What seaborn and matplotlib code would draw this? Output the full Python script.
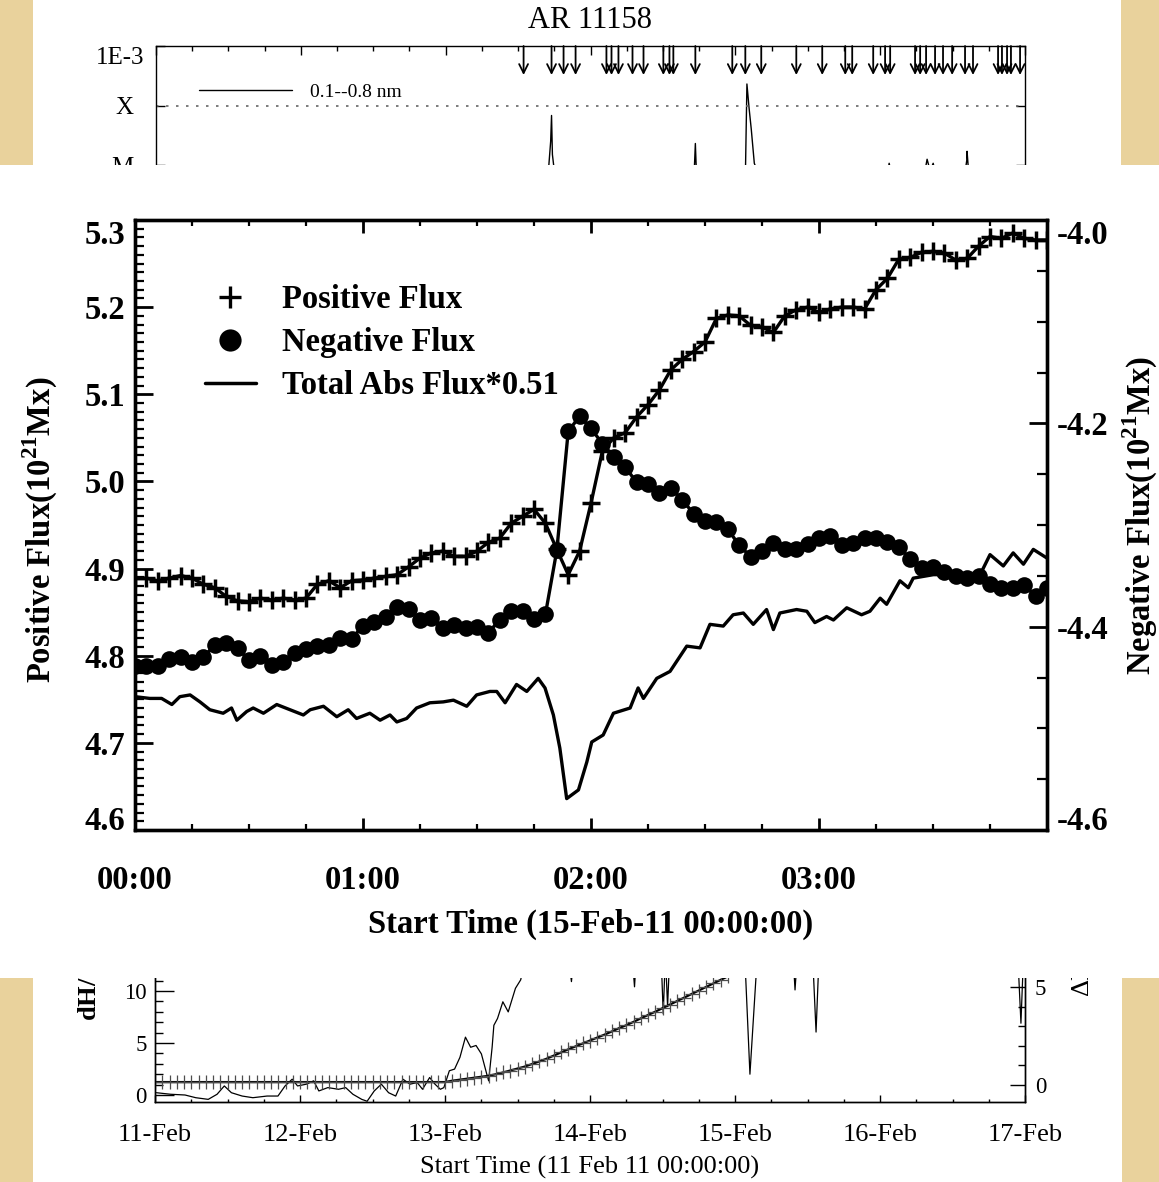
"""AR 11158 magnetic flux evolution around the X2.2 flare (15 Feb 2011)."""
import matplotlib
matplotlib.use("Agg")
import matplotlib.pyplot as plt
from matplotlib.lines import Line2D
from matplotlib.patches import Rectangle
from matplotlib.ticker import (MultipleLocator, FixedLocator, LogLocator,
                               NullFormatter, FuncFormatter, FormatStrFormatter)
import seaborn as sns
import numpy as np

sns.set_style("ticks", {"axes.edgecolor": "black", "xtick.color": "black",
                        "ytick.color": "black", "text.color": "black",
                        "axes.labelcolor": "black"})
plt.rcParams.update({
    "font.family": ["Liberation Serif", "DejaVu Serif"],
    "mathtext.fontset": "custom",
    "mathtext.rm": "Liberation Serif",
    "mathtext.bf": "Liberation Serif:bold",
    "axes.unicode_minus": False,
})

W, H, DPI = 1159, 1182, 100
PARCHMENT = "#e9d29c"

# ---------------- main panel data (minutes after 15-Feb-11 00:00) ----------------
minutes = np.arange(0, 241, 3)
pos_flux = [
    4.889, 4.889, 4.886, 4.889, 4.892, 4.889, 4.882, 4.878, 4.868, 4.863,
    4.862, 4.866, 4.864, 4.866, 4.864, 4.866, 4.882, 4.886, 4.878, 4.886,
    4.887, 4.889, 4.891, 4.893, 4.902, 4.912, 4.918, 4.920, 4.914, 4.914,
    4.920, 4.930, 4.935, 4.952, 4.960, 4.968, 4.952, 4.922, 4.893, 4.920,
    4.975, 5.035, 5.050, 5.056, 5.074, 5.088, 5.105, 5.128, 5.140, 5.149,
    5.160, 5.187, 5.191, 5.190, 5.179, 5.177, 5.171, 5.190, 5.197, 5.200,
    5.194, 5.198, 5.200, 5.200, 5.198, 5.220, 5.233, 5.255, 5.257, 5.263,
    5.264, 5.262, 5.254, 5.256, 5.270, 5.281, 5.279, 5.285, 5.279, 5.277,
    5.277,
]
neg_flux = [
    -4.439, -4.439, -4.439, -4.432, -4.430, -4.435, -4.430, -4.418, -4.416, -4.421,
    -4.433, -4.429, -4.438, -4.435, -4.426, -4.422, -4.419, -4.418, -4.411, -4.412,
    -4.399, -4.395, -4.390, -4.381, -4.383, -4.393, -4.391, -4.401, -4.398, -4.401,
    -4.400, -4.406, -4.393, -4.385, -4.385, -4.392, -4.388, -4.325, -4.208, -4.193,
    -4.205, -4.220, -4.233, -4.243, -4.258, -4.260, -4.269, -4.264, -4.275, -4.289,
    -4.296, -4.297, -4.304, -4.320, -4.331, -4.326, -4.318, -4.324, -4.324, -4.319,
    -4.313, -4.311, -4.320, -4.318, -4.313, -4.313, -4.317, -4.322, -4.333, -4.342,
    -4.341, -4.346, -4.350, -4.352, -4.350, -4.358, -4.362, -4.362, -4.359, -4.370,
    -4.362,
]
total_min = [
    0.0, 3.9, 7.0, 9.7, 11.8, 14.5, 17.1, 19.7, 23.2, 25.4,
    26.8, 29.4, 31.1, 33.8, 37.3, 40.8, 44.3, 46.1, 49.6, 53.1,
    56.1, 58.3, 61.8, 64.5, 67.1, 68.9, 71.5, 74.1, 77.6, 81.1,
    83.8, 87.3, 89.9, 93.4, 95.2, 97.4, 100.4, 103.1, 106.1, 107.9,
    110.1, 111.8, 113.6, 116.7, 118.9, 120.2, 123.2, 125.9, 130.3, 132.4,
    133.8, 137.3, 140.8, 145.2, 148.7, 151.3, 154.8, 157.4, 160.1, 162.7,
    166.2, 168.0, 169.7, 174.1, 176.8, 178.9, 182.0, 183.8, 187.3, 191.2,
    193.4, 196.1, 197.8, 201.3, 203.5, 204.8, 210.1, 214.5, 219.7, 222.4,
    225.0, 228.5, 231.1, 233.8, 236.4, 240.0,
]
total_flux = [
    4.753, 4.751, 4.751, 4.744, 4.753, 4.755, 4.747, 4.738, 4.734, 4.740,
    4.726, 4.736, 4.740, 4.734, 4.744, 4.738, 4.732, 4.738, 4.742, 4.730,
    4.738, 4.728, 4.734, 4.726, 4.732, 4.724, 4.728, 4.740, 4.746, 4.747,
    4.749, 4.742, 4.755, 4.759, 4.759, 4.746, 4.767, 4.759, 4.774, 4.763,
    4.732, 4.694, 4.636, 4.646, 4.678, 4.701, 4.709, 4.734, 4.740, 4.763,
    4.751, 4.774, 4.782, 4.811, 4.809, 4.836, 4.834, 4.847, 4.849, 4.836,
    4.853, 4.830, 4.849, 4.853, 4.851, 4.838, 4.845, 4.841, 4.855, 4.847,
    4.851, 4.866, 4.859, 4.886, 4.878, 4.889, 4.893, 4.893, 4.886, 4.893,
    4.916, 4.903, 4.918, 4.905, 4.922, 4.912,
]
pos_ticks = [4.6, 4.7, 4.8, 4.9, 5.0, 5.1, 5.2, 5.3]
neg_ticks = [-4.6, -4.4, -4.2, -4.0]

# ---------------- top strip: GOES 0.1-0.8 nm (days after 11 Feb) ----------------
goes_day = [0.0, 2.70, 2.725, 2.731, 2.737, 2.76, 3.70, 3.718, 3.724, 3.730,
            3.75, 4.070, 4.080, 4.095, 4.110, 4.131, 4.170, 5.040, 5.062, 5.085,
            5.300, 5.324, 5.345, 5.366, 5.390, 5.580, 5.598, 5.600, 5.610, 6.0]
goes_flux = [3e-6, 4e-6, 2.5e-5, 6.8e-5, 1.5e-5, 5e-6, 4e-6, 1e-5, 2.3e-5, 9e-6,
             5e-6, 8e-6, 2.3e-4, 9e-5, 4e-5, 1.07e-5, 6e-6, 5e-6, 1.07e-5, 6e-6,
             6e-6, 1.25e-5, 8e-6, 1.07e-5, 6e-6, 6e-6, 1.2e-5, 1.7e-5, 8e-6, 4e-6]
flare_days = [2.538, 2.731, 2.814, 2.897, 3.110, 3.145, 3.193, 3.290, 3.366, 3.503,
              3.545, 3.572, 3.724, 3.979, 4.069, 4.179, 4.421, 4.600, 4.759, 4.807,
              4.952, 5.034, 5.069, 5.241, 5.276, 5.317, 5.379, 5.434, 5.497, 5.586,
              5.641, 5.814, 5.841, 5.876, 5.903, 5.966]

# ---------------- bottom strip: helicity rate and accumulated helicity ----------------
rate_day = [0.01, 0.108, 0.207, 0.281, 0.367, 0.428, 0.478, 0.527, 0.601, 0.675,
            0.773, 0.848, 0.897, 0.946, 0.983, 1.044, 1.094, 1.13, 1.192, 1.266,
            1.315, 1.365, 1.426, 1.463, 1.512, 1.561, 1.611, 1.66, 1.71, 1.759,
            1.808, 1.845, 1.894, 1.931, 1.968, 1.992, 2.03, 2.066, 2.103, 2.141,
            2.177, 2.214, 2.251, 2.288, 2.301, 2.325, 2.337, 2.362, 2.399, 2.436,
            2.461, 2.486, 2.522, 2.56, 2.85, 2.872, 2.89, 3.29, 3.307, 3.32,
            3.49, 3.505, 3.52, 3.535, 3.55, 4.07, 4.103, 4.15, 4.40, 4.414,
            4.43, 4.535, 4.559, 4.58, 5.95, 5.972, 5.99]
rate_val = [0.22, 0.07, 0.0, -0.26, -0.42, 0.07, 0.87, 0.22, -0.1, -0.26,
            -0.1, -0.1, 0.87, 1.52, 0.87, 1.04, 1.36, 0.39, 0.71, 0.55,
            0.71, 0.07, -0.42, -0.6, 0.39, 1.04, 0.22, -0.1, 1.52, 1.04,
            1.2, 0.55, 1.68, 1.04, 0.55, 0.71, 2.33, 2.49, 3.62, 5.56,
            4.59, 4.76, 3.95, 2.01, 1.36, 4.59, 6.7, 7.35, 8.96, 7.99,
            9.13, 10.26, 11.07, 13.5, 13.5, 10.9, 13.5, 13.5, 10.4, 13.5,
            13.5, 7.8, 13.5, 8.5, 13.5, 12.5, 2.0, 12.5, 13.5, 10.1,
            13.5, 13.5, 6.05, 13.5, 13.5, 6.9, 13.5]
accum_day = np.arange(0, 3.96, 0.05)
accum_val = [0.15, 0.15, 0.15, 0.15, 0.15, 0.15, 0.15, 0.15, 0.15, 0.15,
             0.15, 0.15, 0.15, 0.15, 0.15, 0.15, 0.15, 0.15, 0.15, 0.15,
             0.15, 0.15, 0.15, 0.15, 0.15, 0.15, 0.15, 0.15, 0.15, 0.15,
             0.15, 0.15, 0.15, 0.15, 0.15, 0.15, 0.15, 0.15, 0.15, 0.15,
             0.15, 0.22, 0.27, 0.32, 0.37, 0.42, 0.47, 0.55, 0.64, 0.74,
             0.84, 0.94, 1.07, 1.20, 1.34, 1.50, 1.66, 1.82, 1.97, 2.12,
             2.27, 2.42, 2.57, 2.73, 2.90, 3.05, 3.22, 3.40, 3.57, 3.74,
             3.92, 4.10, 4.28, 4.46, 4.64, 4.82, 5.00, 5.18, 5.36, 5.54]
date_labels = ["11-Feb", "12-Feb", "13-Feb", "14-Feb", "15-Feb", "16-Feb", "17-Feb"]


def frame(x0, y0, x1, y1):
    """pixel box with top-left origin -> figure-fraction rect"""
    return [x0 / W, 1 - y1 / H, (x1 - x0) / W, (y1 - y0) / H]


def fig_xy(x, y):
    return x / W, 1 - y / H


def hhmm(v, pos):
    if v >= 240:
        return ""
    return f"{int(v // 60):02d}:{int(v % 60):02d}"


fig = plt.figure(figsize=(W / DPI, H / DPI), dpi=DPI, facecolor=PARCHMENT)

# paper areas: white page between parchment edges, and the white band that
# hides the cropped parts of the top and bottom strips
fig.add_artist(Rectangle((33 / W, 1 - 165 / H), (1121 - 33) / W, 165 / H,
                         transform=fig.transFigure, fc="white", ec="none", zorder=-5))
fig.add_artist(Rectangle((33 / W, 0), (1122 - 33) / W, (H - 978) / H,
                         transform=fig.transFigure, fc="white", ec="none", zorder=-5))
fig.add_artist(Rectangle((0, 1 - 978 / H), 1, (978 - 165) / H,
                         transform=fig.transFigure, fc="white", ec="none", zorder=1))

# ---------------- top strip ----------------
ax_top = fig.add_axes(frame(156, 46, 1025, 225), zorder=0)
ax_top.set_yscale("log")
sns.lineplot(x=goes_day, y=goes_flux, ax=ax_top, color="black", linewidth=1.0,
             estimator=None, sort=False)
ax_top.set_xlim(0, 6)
ax_top.set_ylim(10 ** -6.008, 1e-3)
ax_top.axhline(1e-4, color="0.4", lw=1.2, ls=(0, (1.5, 4.5)))
for d in flare_days:
    ax_top.annotate("", xy=(d, 0.838), xytext=(d, 1.0),
                    xycoords=("data", "axes fraction"), textcoords=("data", "axes fraction"),
                    arrowprops=dict(arrowstyle="->", color="black", lw=1.3,
                                    shrinkA=0, shrinkB=0, mutation_scale=16))
ax_top.yaxis.set_major_locator(FixedLocator([1e-5, 1e-4, 1e-3]))
ax_top.yaxis.set_minor_locator(LogLocator(base=10, subs=np.arange(2, 10)))
ax_top.yaxis.set_minor_formatter(NullFormatter())
ax_top.set_yticklabels(["M", "X", ""])
ax_top.xaxis.set_major_locator(MultipleLocator(1))
ax_top.xaxis.set_minor_locator(MultipleLocator(0.25))
ax_top.tick_params(which="both", direction="in", top=True, right=True,
                   labelbottom=False, width=1)
ax_top.tick_params(which="major", length=6.5)
ax_top.tick_params(which="minor", length=3.6)
ax_top.tick_params(axis="y", labelsize=18, pad=16)
for s in ax_top.spines.values():
    s.set_linewidth(1.0)
ax_top.set_xlabel("")
ax_top.set_ylabel("")
ax_top.legend(handles=[Line2D([], [], color="black", lw=1.0)], labels=["0.1--0.8 nm"],
              loc="center left", bbox_to_anchor=((199 - 156) / 869, 1 - (92 - 46) / 179),
              frameon=False, fontsize=14, handlelength=4.8, handletextpad=0.9,
              borderpad=0, borderaxespad=0)
fig.text(*fig_xy(120, 58), "1E-3", ha="center", va="center", fontsize=18)
fig.text(*fig_xy(590, 20), "AR 11158", ha="center", va="center", fontsize=22)

# ---------------- main panel ----------------
ax = fig.add_axes(frame(135, 220, 1047, 830), zorder=2)
ax2 = ax.twinx()
ax2.set_zorder(3)

sns.lineplot(x=minutes, y=pos_flux, ax=ax, color="black", linewidth=2.4,
             marker="+", markersize=13, markeredgewidth=2.5,
             markeredgecolor="black", estimator=None)
sns.lineplot(x=total_min, y=total_flux, ax=ax, color="black", linewidth=2.4,
             estimator=None)
sns.lineplot(x=minutes, y=neg_flux, ax=ax2, color="black", linewidth=2.4,
             marker="o", markersize=12, markerfacecolor="black",
             markeredgecolor="black", markeredgewidth=0, estimator=None)

ax.set_xlim(0, 240)
ax.set_ylim(4.6, 5.3)
ax.xaxis.set_major_locator(MultipleLocator(60))
ax.xaxis.set_minor_locator(MultipleLocator(15))
ax.xaxis.set_major_formatter(FuncFormatter(hhmm))
ax.yaxis.set_major_locator(FixedLocator(pos_ticks))
ax.yaxis.set_minor_locator(MultipleLocator(0.01))
ax.yaxis.set_major_formatter(FormatStrFormatter("%.1f"))
ax.tick_params(which="both", direction="in", top=True, bottom=True, left=True,
               right=False, labelsize=23.5)
ax.tick_params(axis="y", which="major", length=13, width=2, pad=7)
ax.tick_params(axis="y", which="minor", length=6.5, width=1.6)
ax.tick_params(axis="x", which="major", length=9, width=2, pad=25)
ax.tick_params(axis="x", which="minor", length=4, width=1.6)

ax2.set_ylim(-4.6, -4.0)
ax2.yaxis.set_major_locator(FixedLocator(neg_ticks))
ax2.yaxis.set_minor_locator(MultipleLocator(0.05))
ax2.yaxis.set_major_formatter(FormatStrFormatter("%.1f"))
ax2.tick_params(which="both", direction="in", left=False, right=True, labelsize=23.5)
ax2.tick_params(which="major", length=13, width=2, pad=7)
ax2.tick_params(which="minor", length=7.5, width=1.6)
for a in (ax, ax2):
    a.set_xlabel("")
    a.set_ylabel("")
    for s in a.spines.values():
        s.set_linewidth(2.4)

handles = [Line2D([], [], ls="none", marker="+", ms=16, mew=2.4, color="black"),
           Line2D([], [], ls="none", marker="o", ms=16, mew=0, color="black"),
           Line2D([], [], color="black", lw=2.5)]
ax.legend(handles, ["Positive Flux", "Negative Flux", "Total Abs Flux*0.51"],
          loc="upper left", bbox_to_anchor=((205 - 135) / 912, 1 - (284 - 220) / 610),
          frameon=False, prop={"weight": "bold", "size": 23.5},
          handlelength=1.55, handletextpad=0.8, labelspacing=0.37,
          borderpad=0, borderaxespad=0)

for lab in ax.get_xticklabels() + ax.get_yticklabels() + ax2.get_yticklabels():
    lab.set_fontweight("bold")
# end labels sit just inside the frame, as in the original plot
for labels in (ax.get_yticklabels(), ax2.get_yticklabels()):
    labels[0].set_verticalalignment("baseline")
    labels[-1].set_verticalalignment("top")

fig.text(*fig_xy(591, 924), "Start Time (15-Feb-11 00:00:00)", ha="center",
         va="center", fontsize=23.5, fontweight="bold")
fig.text(*fig_xy(40, 530), r"Positive Flux(10$^{\mathbf{21}}$Mx)", rotation=90,
         ha="center", va="center", fontsize=23.5, fontweight="bold")
fig.text(*fig_xy(1140, 515), r"Negative Flux(10$^{\mathbf{21}}$Mx)", rotation=90,
         ha="center", va="center", fontsize=23.5, fontweight="bold")

# ---------------- bottom strip ----------------
ax_b = fig.add_axes(frame(155, 940, 1025, 1102), zorder=0)
ax_b2 = ax_b.twinx()
sns.lineplot(x=rate_day, y=rate_val, ax=ax_b, color="black", linewidth=0.9,
             estimator=None, sort=False)
sns.lineplot(x=accum_day, y=accum_val, ax=ax_b2, color="black", linewidth=1.6,
             marker="+", markersize=10, markeredgewidth=0.9,
             markeredgecolor="0.3", estimator=None)
ax_b.set_xlim(0, 6)
ax_b.set_ylim(-0.673, 14.9)
ax_b2.set_ylim(-0.867, 7.398)
ax_b.xaxis.set_major_locator(FixedLocator(range(7)))
ax_b.xaxis.set_minor_locator(MultipleLocator(0.25))
ax_b.set_xticklabels(date_labels)
ax_b.yaxis.set_major_locator(MultipleLocator(5))
ax_b.yaxis.set_minor_locator(MultipleLocator(1))
ax_b2.yaxis.set_major_locator(MultipleLocator(5))
ax_b2.yaxis.set_minor_locator(MultipleLocator(1))
ax_b.tick_params(which="both", direction="in", top=False, right=False, width=1)
ax_b.tick_params(axis="x", which="major", length=5, labelsize=19, pad=16)
ax_b.tick_params(axis="x", which="minor", length=2.5)
ax_b.tick_params(axis="y", which="major", length=13.5, labelsize=16.5, pad=6)
ax_b.tick_params(axis="y", which="minor", length=6)
ax_b2.tick_params(which="both", direction="in", left=False, right=True, width=1)
ax_b2.tick_params(which="major", length=10.5, labelsize=16.5, pad=7)
ax_b2.tick_params(which="minor", length=5)
for a in (ax_b, ax_b2):
    a.set_xlabel("")
    for s in a.spines.values():
        s.set_linewidth(1.0)
ax_b.set_ylabel(r"dH/dt (10$^{\mathbf{40}}$Mx$^{\mathbf{2}}$h$^{\mathbf{-1}}$)",
                fontsize=19, fontweight="bold", rotation=90, ha="left", va="center")
ax_b.yaxis.set_label_coords((88 - 155) / 870, (1102 - 1021) / 162)
ax_b2.set_ylabel(r"$\Delta$H (10$^{40}$Mx$^{2}$)", fontsize=19, rotation=90,
                 ha="left", va="center")
ax_b2.yaxis.set_label_coords((1081 - 155) / 870, (1102 - 997) / 162)
fig.text(*fig_xy(590, 1167), "Start Time (11 Feb 11 00:00:00)", ha="center",
         va="center", fontsize=19)

fig.savefig("out.png", dpi=DPI, facecolor=PARCHMENT)
